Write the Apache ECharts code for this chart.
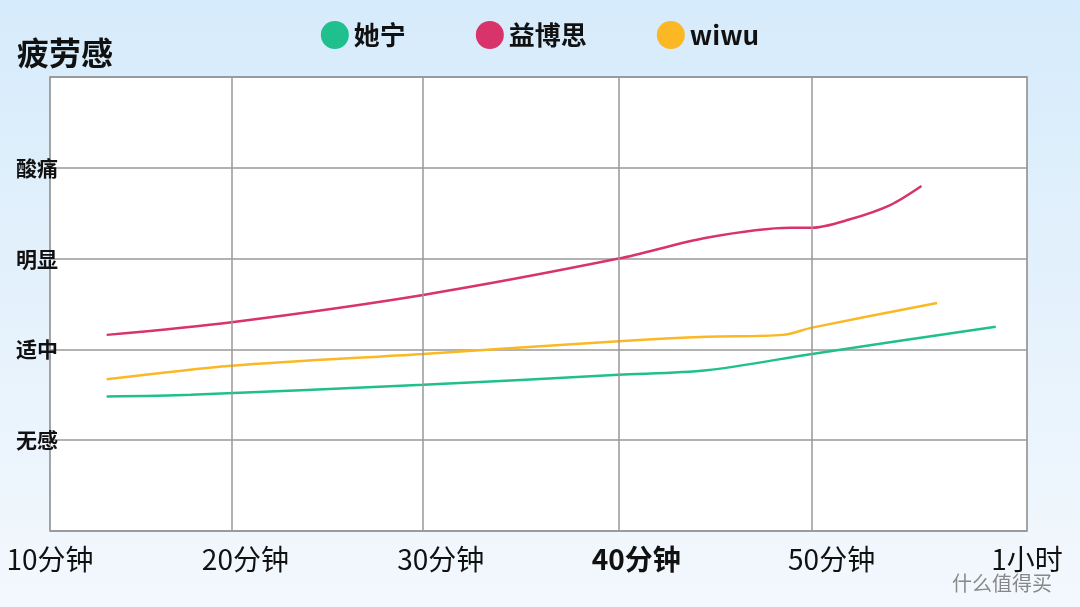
<!DOCTYPE html>
<html><head><meta charset="utf-8">
<script src="https://cdn.jsdelivr.net/npm/echarts@6/dist/echarts.min.js"></script>
<style>html,body{margin:0;padding:0}#c{width:1080px;height:607px;background:linear-gradient(#d6ebfb,#f3f8fd)}</style>
</head><body><div id="c"></div>
<script>
const xLabels=['10分钟','20分钟','30分钟','40分钟','50分钟','1小时'];
const xGridLines=[0.927,1.91,2.913,3.9];
const yLabels=['','无感','适中','明显','酸痛',''];
const seriesNames=['她宁','益博思','wiwu'];
const taning=[[0.29,1.48],[0.72,1.50],[1.91,1.61],[2.91,1.72],[3.36,1.77],[3.90,1.95],[4.84,2.25]];
const yibosi=[[0.29,2.16],[0.93,2.30],[1.91,2.60],[2.91,3.0],[3.36,3.23],[3.79,3.34],[3.90,3.34],[4.09,3.43],[4.30,3.59],[4.46,3.80]];
const wiwu=[[0.29,1.67],[0.93,1.82],[1.91,1.95],[2.91,2.09],[3.36,2.14],[3.75,2.16],[3.90,2.24],[4.54,2.51]];
const colors=['#1fc08e','#d9336b','#fbb824'];
const chart=echarts.init(document.getElementById('c'));
chart.setOption({
 backgroundColor:'transparent',
 title:{text:'疲劳感',left:12,top:32,textStyle:{fontSize:32,fontWeight:'bold',color:'#111',fontFamily:'Noto Sans CJK SC'}},
 legend:{top:16,left:'center',itemGap:70,icon:'circle',itemWidth:28,itemHeight:28,
  textStyle:{fontSize:26,fontWeight:'bold',color:'#111',fontFamily:'Noto Sans CJK SC'},data:seriesNames},
 graphic:[{type:'text',right:28,bottom:14,style:{text:'什么值得买',fontSize:20,fill:'#888',fontFamily:'Noto Sans CJK SC'}}],
 grid:{left:50,right:53,top:77,bottom:76,show:true,backgroundColor:'#fff',borderColor:'#888',borderWidth:1.5},
 xAxis:{type:'value',min:0,max:5,interval:1,
  axisLine:{show:false},axisTick:{show:false},splitLine:{show:false},
  axisLabel:{margin:14,fontSize:28,color:'#111',fontFamily:'Noto Sans CJK SC',
   formatter:v=>{const i=Math.round(v);return i===3?'{b|'+xLabels[i]+'}':xLabels[i];},
   rich:{b:{fontSize:28,fontWeight:'bold',color:'#111',fontFamily:'Noto Sans CJK SC'}}}},
 yAxis:{type:'value',min:0,max:5,interval:1,
  axisLine:{show:false},axisTick:{show:false},
  splitLine:{lineStyle:{color:'#999',width:1.5}},
  axisLabel:{margin:-8,align:'right',fontSize:21,fontWeight:'bold',color:'#111',fontFamily:'Noto Sans CJK SC',
   formatter:v=>yLabels[Math.round(v)]}},
 series:[
  {name:seriesNames[0],type:'line',smooth:0.3,showSymbol:false,data:taning,lineStyle:{width:2.5,color:colors[0]},itemStyle:{color:colors[0]},
   markLine:{silent:true,symbol:'none',label:{show:false},lineStyle:{color:'#999',width:1.5,type:'solid'},data:xGridLines.map(v=>({xAxis:v}))},z:3},
  {name:seriesNames[1],type:'line',smooth:0.3,showSymbol:false,data:yibosi,lineStyle:{width:2.5,color:colors[1]},itemStyle:{color:colors[1]}},
  {name:seriesNames[2],type:'line',smooth:0.3,showSymbol:false,data:wiwu,lineStyle:{width:2.5,color:colors[2]},itemStyle:{color:colors[2]}}
 ]
});
</script></body></html>
